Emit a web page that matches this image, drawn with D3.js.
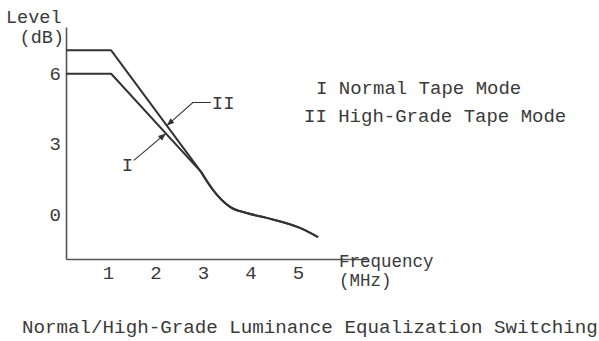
<!DOCTYPE html>
<html>
<head>
<meta charset="UTF-8" />
<title>Luminance Equalization Switching</title>
<script src="https://d3js.org/d3.v7.min.js"></script>
<style>
  body { margin: 0; background: #fff; }
  text { font-family: "Liberation Mono", "Courier New", monospace; fill: #3a3a3a; }
</style>
</head>
<body>
<div id="main"></div>
<script type="text/javascript">

  // frequency (MHz), level (dB)
  var normalHead = [[0.12, 6], [1.07, 6], [2.96, 1.8]];
  var highHead   = [[0.12, 7], [1.07, 7], [2.96, 1.8]];
  // both modes share the same roll-off above ~3 MHz
  var sharedTail = [[2.96, 1.8], [3.21, 1.03], [3.57, 0.3], [3.92, 0.04],
                    [4.34, -0.17], [5.04, -0.6], [5.42, -0.99]];

  var xTicks = [1, 2, 3, 4, 5];
  var yTicks = [0, 3, 6];
  var legendLines = ['I Normal Tape Mode', 'II High-Grade Tape Mode'];
  var title = 'Normal/High-Grade Luminance Equalization Switching';

  var width = 599;
  var height = 341;

  var svg = d3.select('#main')
              .append('svg')
              .attr('width', width)
              .attr('height', height);

  var x = d3.scaleLinear().domain([0.12, 6.45]).range([66, 367]);
  var y = d3.scaleLinear().domain([-1.93, 8]).range([259, 27]);

  var ink = '#333';

  // arrow head for the leader lines
  svg.append('defs').append('marker')
     .attr('id', 'arr')
     .attr('viewBox', '0 0 10 10')
     .attr('refX', 10).attr('refY', 5)
     .attr('markerWidth', 7).attr('markerHeight', 7)
     .attr('orient', 'auto')
     .append('path')
     .attr('d', 'M0,1 L10,5 L0,9 z')
     .attr('fill', ink);

  // axes
  var xAxis = svg.append('g')
     .attr('transform', 'translate(0,' + y.range()[0] + ')')
     .call(d3.axisBottom(x).tickValues(xTicks).tickFormat(d3.format('d'))
             .tickSize(0).tickSizeOuter(0).tickPadding(6.5));
  var yAxis = svg.append('g')
     .attr('transform', 'translate(' + x.range()[0] + ',0)')
     .call(d3.axisLeft(y).tickValues(yTicks).tickFormat(d3.format('d'))
             .tickSize(0).tickSizeOuter(0).tickPadding(5));

  [xAxis, yAxis].forEach(function(a){
    a.select('.domain').attr('stroke', '#555').attr('stroke-width', 1.6);
    a.selectAll('text').style('font-size', '19px').attr('fill', '#3a3a3a')
     .style('font-family', '"Liberation Mono", "Courier New", monospace');
  });

  // curves: straight shelves and slopes, smooth shared tail
  var lin = d3.line().x(function(d){ return x(d[0]); }).y(function(d){ return y(d[1]); });
  var smooth = d3.line().curve(d3.curveMonotoneX)
                 .x(function(d){ return x(d[0]); }).y(function(d){ return y(d[1]); });

  [normalHead, highHead].forEach(function(head){
    svg.append('path')
       .attr('d', lin(head) + smooth(sharedTail).replace(/^M/, 'L'))
       .attr('fill', 'none')
       .attr('stroke', ink)
       .attr('stroke-width', 2)
       .attr('stroke-linejoin', 'round');
  });

  // level on a head polyline at frequency f
  function levelAt(head, f){
    for (var i = 1; i < head.length; i++) {
      if (f <= head[i][0]) {
        var t = (f - head[i-1][0]) / (head[i][0] - head[i-1][0]);
        return head[i-1][1] + t * (head[i][1] - head[i-1][1]);
      }
    }
    return head[head.length - 1][1];
  }

  // leader "II"
  var tipII = [x(2.24), y(levelAt(highHead, 2.24))];
  svg.append('path')
     .attr('d', 'M' + (tipII[0] + 44) + ',' + (tipII[1] - 23) +
                'L' + (tipII[0] + 26) + ',' + (tipII[1] - 23) +
                'L' + tipII[0] + ',' + tipII[1])
     .attr('fill', 'none').attr('stroke', ink).attr('stroke-width', 1.1)
     .attr('marker-end', 'url(#arr)');
  svg.append('text')
     .attr('x', tipII[0] + 45).attr('y', tipII[1] - 17)
     .style('font-size', '19px').text('II');

  // leader "I"
  var tipI = [x(2.22), y(levelAt(normalHead, 2.22))];
  svg.append('path')
     .attr('d', 'M' + (tipI[0] - 32) + ',' + (tipI[1] + 27) +
                'L' + tipI[0] + ',' + tipI[1])
     .attr('fill', 'none').attr('stroke', ink).attr('stroke-width', 1.1)
     .attr('marker-end', 'url(#arr)');
  svg.append('text')
     .attr('x', tipI[0] - 44).attr('y', tipI[1] + 38)
     .style('font-size', '19px').text('I');

  // axis titles
  svg.append('text').attr('x', 6).attr('y', 23).style('font-size', '18.5px').text('Level');
  svg.append('text').attr('x', 64).attr('y', 43).attr('text-anchor', 'end')
     .style('font-size', '18.5px').text('(dB)');
  svg.append('text').attr('x', 339).attr('y', 267).style('font-size', '17.5px').text('Frequency');
  svg.append('text').attr('x', 339).attr('y', 286).style('font-size', '17.5px').text('(MHz)');

  // legend
  svg.selectAll('.legend')
     .data(legendLines)
     .enter()
     .append('text')
     .attr('class', 'legend')
     .attr('x', function(d, i){ return i === 0 ? 316 : 304; })
     .attr('y', function(d, i){ return 94 + i * 28; })
     .style('font-size', '19px')
     .text(function(d){ return d; });

  // caption
  svg.append('text').attr('x', 22).attr('y', 333).style('font-size', '19.2px').text(title);

</script>
</body>
</html>
